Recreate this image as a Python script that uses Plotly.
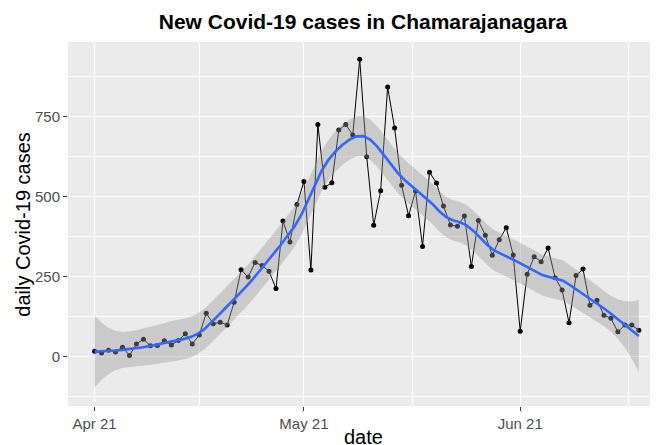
import numpy as np
import pandas as pd
import plotly.graph_objects as go

# ---------------- data ----------------
start_date = "2021-04-01"
end_date = "2021-06-18"
cases_apr = [17, 12, 20, 15, 30, 4, 40, 55, 34, 35, 50, 37, 51, 72, 40, 68, 136, 103,
             108, 99, 170, 272, 249, 295, 285, 267, 213, 424, 359, 476]
cases_may = [548, 271, 726, 530, 544, 709, 726, 693, 930, 625, 411, 519, 843, 715, 536,
             441, 518, 345, 577, 543, 471, 412, 408, 440, 282, 426, 380, 317, 366, 403, 318]
cases_jun = [80, 258, 313, 297, 340, 247, 209, 106, 254, 274, 161, 177, 130, 120, 78,
             99, 99, 83]

x_tick_vals = ["2021-04-01", "2021-05-01", "2021-06-01"]
x_tick_text = ["Apr 21", "May 21", "Jun 21"]
x_minor_vals = ["2021-04-16", "2021-05-16 12:00", "2021-06-16 12:00"]
y_tick_vals = [0, 250, 500, 750]
y_minor_vals = [-125, 125, 375, 625, 875]

dates = pd.date_range(start_date, end_date, freq="D")
cases = np.array(cases_apr + cases_may + cases_jun, dtype=float)

# ---------------- loess smoother (like geom_smooth) ----------------
def loess_rows(x, xq, span, degree=2):
    n = len(x)
    q = int(np.floor(n * span))
    rows = []
    for x0 in xq:
        d = np.abs(x - x0)
        h = np.sort(d)[q - 1] * 1.0000001
        w = np.clip(1 - (d / h) ** 3, 0, None) ** 3
        X = np.vander(x - x0, degree + 1, increasing=True)
        XtW = X.T * w
        A = XtW @ X
        rows.append(np.linalg.solve(A, XtW)[0])
    return np.array(rows)

span = 0.3
xd = np.arange(len(cases), dtype=float)
xnew = np.linspace(xd.min(), xd.max(), 80)
L = loess_rows(xd, xd, span)
Lnew = loess_rows(xd, xnew, span)
fit = Lnew @ cases
Rm = np.eye(len(xd)) - L
M = Rm.T @ Rm
d1 = np.trace(M)
d2 = np.trace(M @ M)
rss = np.sum((Rm @ cases) ** 2)
s = np.sqrt(rss / d1)
se = s * np.sqrt(np.sum(Lnew ** 2, axis=1))
dfree = d1 ** 2 / d2
z = 1.959964
tq = z + (z ** 3 + z) / (4 * dfree) + (5 * z ** 5 + 16 * z ** 3 + 3 * z) / (96 * dfree ** 2)
lo = fit - tq * se
hi = fit + tq * se
xnew_dates = pd.Timestamp(start_date) + pd.to_timedelta(xnew, unit="D")

# ---------------- figure ----------------
# the page body has an 8px default margin, so the figure is 650x437
FONT = "Liberation Sans, Arial, sans-serif"
W, H = 650, 437
ML, MT, MB = 60, 34, 39
plot_h = H - MT - MB

fig = go.Figure()

fig.add_trace(go.Scatter(
    x=dates, y=cases, mode="lines+markers",
    line=dict(color="black", width=1),
    marker=dict(color="black", size=5),
    showlegend=False))

fig.add_trace(go.Scatter(
    x=xnew_dates, y=lo, mode="lines", line=dict(width=0, color="rgba(0,0,0,0)"),
    showlegend=False, hoverinfo="skip"))
fig.add_trace(go.Scatter(
    x=xnew_dates, y=hi, mode="lines", line=dict(width=0, color="rgba(0,0,0,0)"),
    fill="tonexty", fillcolor="rgba(153,153,153,0.4)",
    showlegend=False, hoverinfo="skip"))
fig.add_trace(go.Scatter(
    x=xnew_dates, y=fit, mode="lines",
    line=dict(color="#3366FF", width=2.6),
    showlegend=False))

fig.update_layout(
    width=W, height=H,
    margin=dict(l=ML, r=0, t=MT, b=MB, autoexpand=False),
    paper_bgcolor="white",
    plot_bgcolor="#EBEBEB",
    font=dict(family=FONT, color="#4D4D4D"),
    title=dict(text="<b>New Covid-19 cases in Chamarajanagara</b>",
               x=0.5, xref="paper", y=1 - 14 / H, yref="container",
               xanchor="center", yanchor="middle",
               font=dict(family=FONT, size=21, color="black")),
    showlegend=False,
)

fig.update_xaxes(
    type="date",
    range=["2021-03-28 04:30", "2021-06-20 18:00"],
    tickmode="array", tickvals=x_tick_vals, ticktext=x_tick_text,
    tickfont=dict(family=FONT, size=15, color="#4D4D4D"),
    ticks="outside", ticklen=4, tickwidth=1, tickcolor="#333333",
    showgrid=True, gridcolor="white", gridwidth=1.1,
    minor=dict(tickmode="array", tickvals=x_minor_vals, showgrid=True,
               gridcolor="white", gridwidth=0.5, ticks=""),
    zeroline=False, showline=False, automargin=False,
)
fig.update_yaxes(
    range=[-154, 984],
    tickmode="array", tickvals=y_tick_vals, ticktext=[str(v) for v in y_tick_vals],
    tickfont=dict(family=FONT, size=15, color="#4D4D4D"),
    ticks="outside", ticklen=4, tickwidth=1, tickcolor="#333333",
    showgrid=True, gridcolor="white", gridwidth=1.1,
    minor=dict(tickmode="array", tickvals=y_minor_vals, showgrid=True,
               gridcolor="white", gridwidth=0.5, ticks=""),
    zeroline=False, showline=False, automargin=False,
)

fig.add_annotation(text="date", xref="paper", yref="paper", x=0.5,
                   y=-(428.5 - (H - MB)) / plot_h,
                   xanchor="center", yanchor="middle", showarrow=False,
                   font=dict(family=FONT, size=20, color="black"))
fig.add_annotation(text="daily Covid-19 cases", xref="paper", yref="paper",
                   x=(14.7 - ML) / (W - ML), y=0.5, textangle=-90,
                   xanchor="center", yanchor="middle", showarrow=False,
                   font=dict(family=FONT, size=20, color="black"))

fig.write_html("out.html")
